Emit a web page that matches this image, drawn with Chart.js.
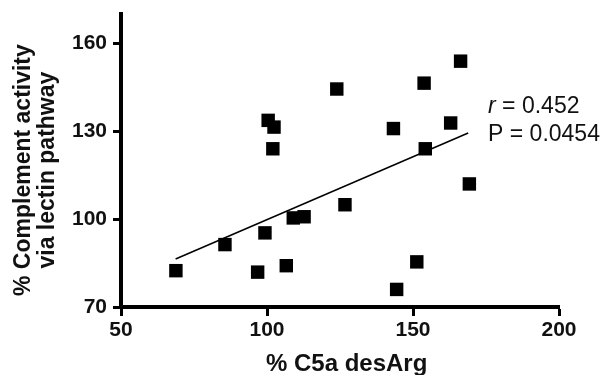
<!DOCTYPE html>
<html>
<head>
<meta charset="utf-8">
<title>C5a desArg vs lectin pathway</title>
<script src="https://cdn.jsdelivr.net/npm/chart.js@4"></script>
<style>
  html, body { margin: 0; padding: 0; background: #fff; }
  canvas { display: block; }
</style>
</head>
<body>
<canvas id="chart" width="608" height="375"></canvas>
<script>
  // ── Data ──
  const c5aDesArg = [68.8, 85.6, 96.8, 99.3, 100.4, 102.0, 102.4, 106.6, 109.0, 112.7,
                     123.9, 126.7, 143.3, 144.4, 151.3, 153.8, 154.2, 162.9, 166.3, 169.3];
  const lectinActivity = [82.4, 91.3, 81.9, 95.3, 133.7, 124.0, 131.4, 84.1, 100.4, 100.8,
                          144.4, 104.9, 130.9, 76.0, 85.4, 146.4, 124.0, 132.8, 153.9, 112.0];
  const fitX = [68.7, 168.9];
  const fitY = [86.4, 129.4];
  const xTicks = [50, 100, 150, 200];
  const yTicks = [70, 100, 130, 160];
  const rValue = '0.452';
  const pValue = '0.0454';

  const FONT = "'Liberation Sans', Arial, Helvetica, sans-serif";
  const INK = '#111';
  // where the r / P text sits, in data units (x of left edge, baselines)
  const STAT_POS = { x: 175.7, y: [136.3, 126.5] };

  Chart.defaults.font.family = FONT;
  Chart.defaults.color = INK;

  const statsLabel = {
    id: 'statsLabel',
    afterDatasetsDraw(chart) {
      const { ctx, scales: { x, y } } = chart;
      const left = x.getPixelForValue(STAT_POS.x);
      const y1 = y.getPixelForValue(STAT_POS.y[0]);
      const y2 = y.getPixelForValue(STAT_POS.y[1]);
      ctx.save();
      ctx.fillStyle = INK;
      ctx.textBaseline = 'alphabetic';
      ctx.textAlign = 'left';
      ctx.font = 'italic 23px ' + FONT;
      ctx.fillText('r', left, y1);
      const rw = ctx.measureText('r').width;
      ctx.font = '23px ' + FONT;
      ctx.fillText(' = ' + rValue, left + rw, y1);
      ctx.fillText('P = ' + pValue, left, y2);
      ctx.restore();
    }
  };

  const tickFont = { family: FONT, size: 21, weight: 'bold' };

  new Chart(document.getElementById('chart'), {
    type: 'scatter',
    data: {
      datasets: [
        {
          label: 'Samples',
          data: c5aDesArg.map((v, i) => ({ x: v, y: lectinActivity[i] })),
          pointStyle: 'rect',
          pointRadius: 9.5,
          backgroundColor: '#000',
          borderWidth: 0,
        },
        {
          label: 'Linear fit',
          data: fitX.map((v, i) => ({ x: v, y: fitY[i] })),
          showLine: true,
          borderColor: '#000',
          borderWidth: 1.5,
          pointRadius: 0,
          fill: false,
        }
      ]
    },
    options: {
      responsive: false,
      animation: false,
      events: [],
      layout: { padding: { top: 14, right: 49, left: 0, bottom: 0 } },
      plugins: { legend: { display: false }, tooltip: { enabled: false } },
      scales: {
        x: {
          type: 'linear', min: 50, max: 200,
          afterBuildTicks: s => { s.ticks = xTicks.map(v => ({ value: v })); },
          afterFit: s => { s.height = 68; s.paddingLeft = 0; s.paddingRight = 0; },
          border: { display: true, color: '#000', width: 4 },
          grid: { drawOnChartArea: false, drawTicks: true, tickLength: 9, tickColor: '#000', tickWidth: 3 },
          ticks: { color: INK, font: tickFont, padding: 2, maxRotation: 0, autoSkip: false },
          title: {
            display: true, text: '  % C5a desArg', color: INK, padding: 0,
            font: { family: FONT, size: 24, weight: 'bold', lineHeight: 0.87 }
          }
        },
        y: {
          type: 'linear', min: 70, max: 170,
          afterBuildTicks: s => { s.ticks = yTicks.map(v => ({ value: v })); },
          afterFit: s => { s.width = 121; s.paddingTop = 0; s.paddingBottom = 0; },
          border: { display: true, color: '#000', width: 4 },
          grid: { drawOnChartArea: false, drawTicks: true, tickLength: 8, tickColor: '#000', tickWidth: 3 },
          ticks: { color: INK, font: tickFont, padding: 6, autoSkip: false },
          title: {
            display: true,
            text: ['% Complement activity   ', 'via lectin pathway   '],
            color: INK, padding: { top: 12.3, bottom: 0 },
            font: { family: FONT, size: 23, weight: 'bold', lineHeight: 1.02 }
          }
        }
      }
    },
    plugins: [statsLabel]
  });
</script>
</body>
</html>
